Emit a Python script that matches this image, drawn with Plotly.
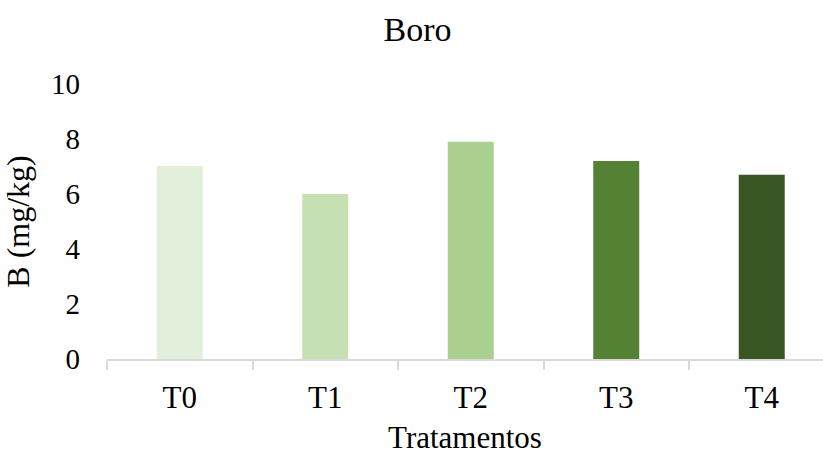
import plotly.graph_objects as go

# Boron content per treatment
tratamentos = ["T0", "T1", "T2", "T3", "T4"]
boro_mg_kg = [7.02, 6.0, 7.9, 7.2, 6.7]
cores = ["#e2efda", "#c6e0b4", "#a9d08e", "#548235", "#375623"]
y_ticks = [0, 2, 4, 6, 8, 10]

FONT = "Liberation Serif"
AXIS_GREY = "#d9d9d9"

W, H = 823, 455
left, right, top, bottom = 107, 0, 84, 96
cat_px = 145.5
plot_w = W - left - right

fig = go.Figure(
    go.Bar(
        x=tratamentos,
        y=boro_mg_kg,
        marker=dict(color=cores, line=dict(width=0)),
        width=0.316,
        hoverinfo="x+y",
    )
)

fig.update_layout(
    width=W,
    height=H,
    margin=dict(l=left, r=right, t=top, b=bottom, pad=0),
    paper_bgcolor="white",
    plot_bgcolor="white",
    showlegend=False,
    font=dict(family=FONT, color="black", size=30),
    title=dict(
        text="Boro",
        font=dict(family=FONT, size=34, color="black"),
        x=417.5 / W,
        xref="container",
        xanchor="center",
        y=1 - 29 / H,
        yref="container",
        yanchor="middle",
    ),
)

fig.update_xaxes(
    type="category",
    range=[-0.5, -0.5 + plot_w / cat_px],
    showline=True,
    linecolor=AXIS_GREY,
    linewidth=1.5,
    ticks="outside",
    tickson="boundaries",
    ticklen=9,
    tickcolor=AXIS_GREY,
    tickwidth=1.5,
    showgrid=False,
    zeroline=False,
    tickfont=dict(family=FONT, size=31, color="black"),
    ticklabelstandoff=10,
    title=dict(
        text="Tratamentos",
        font=dict(family=FONT, size=31, color="black"),
        standoff=14,
    ),
)

fig.update_yaxes(
    range=[0, 10],
    tickvals=y_ticks,
    ticktext=[str(v) for v in y_ticks],
    showline=False,
    showgrid=False,
    zeroline=False,
    ticks="",
    tickfont=dict(family=FONT, size=29, color="black"),
    ticklabelstandoff=26,
    title=dict(
        text="B (mg/kg)",
        font=dict(family=FONT, size=32, color="black"),
        standoff=14,
    ),
)

fig.write_html("out.html")
